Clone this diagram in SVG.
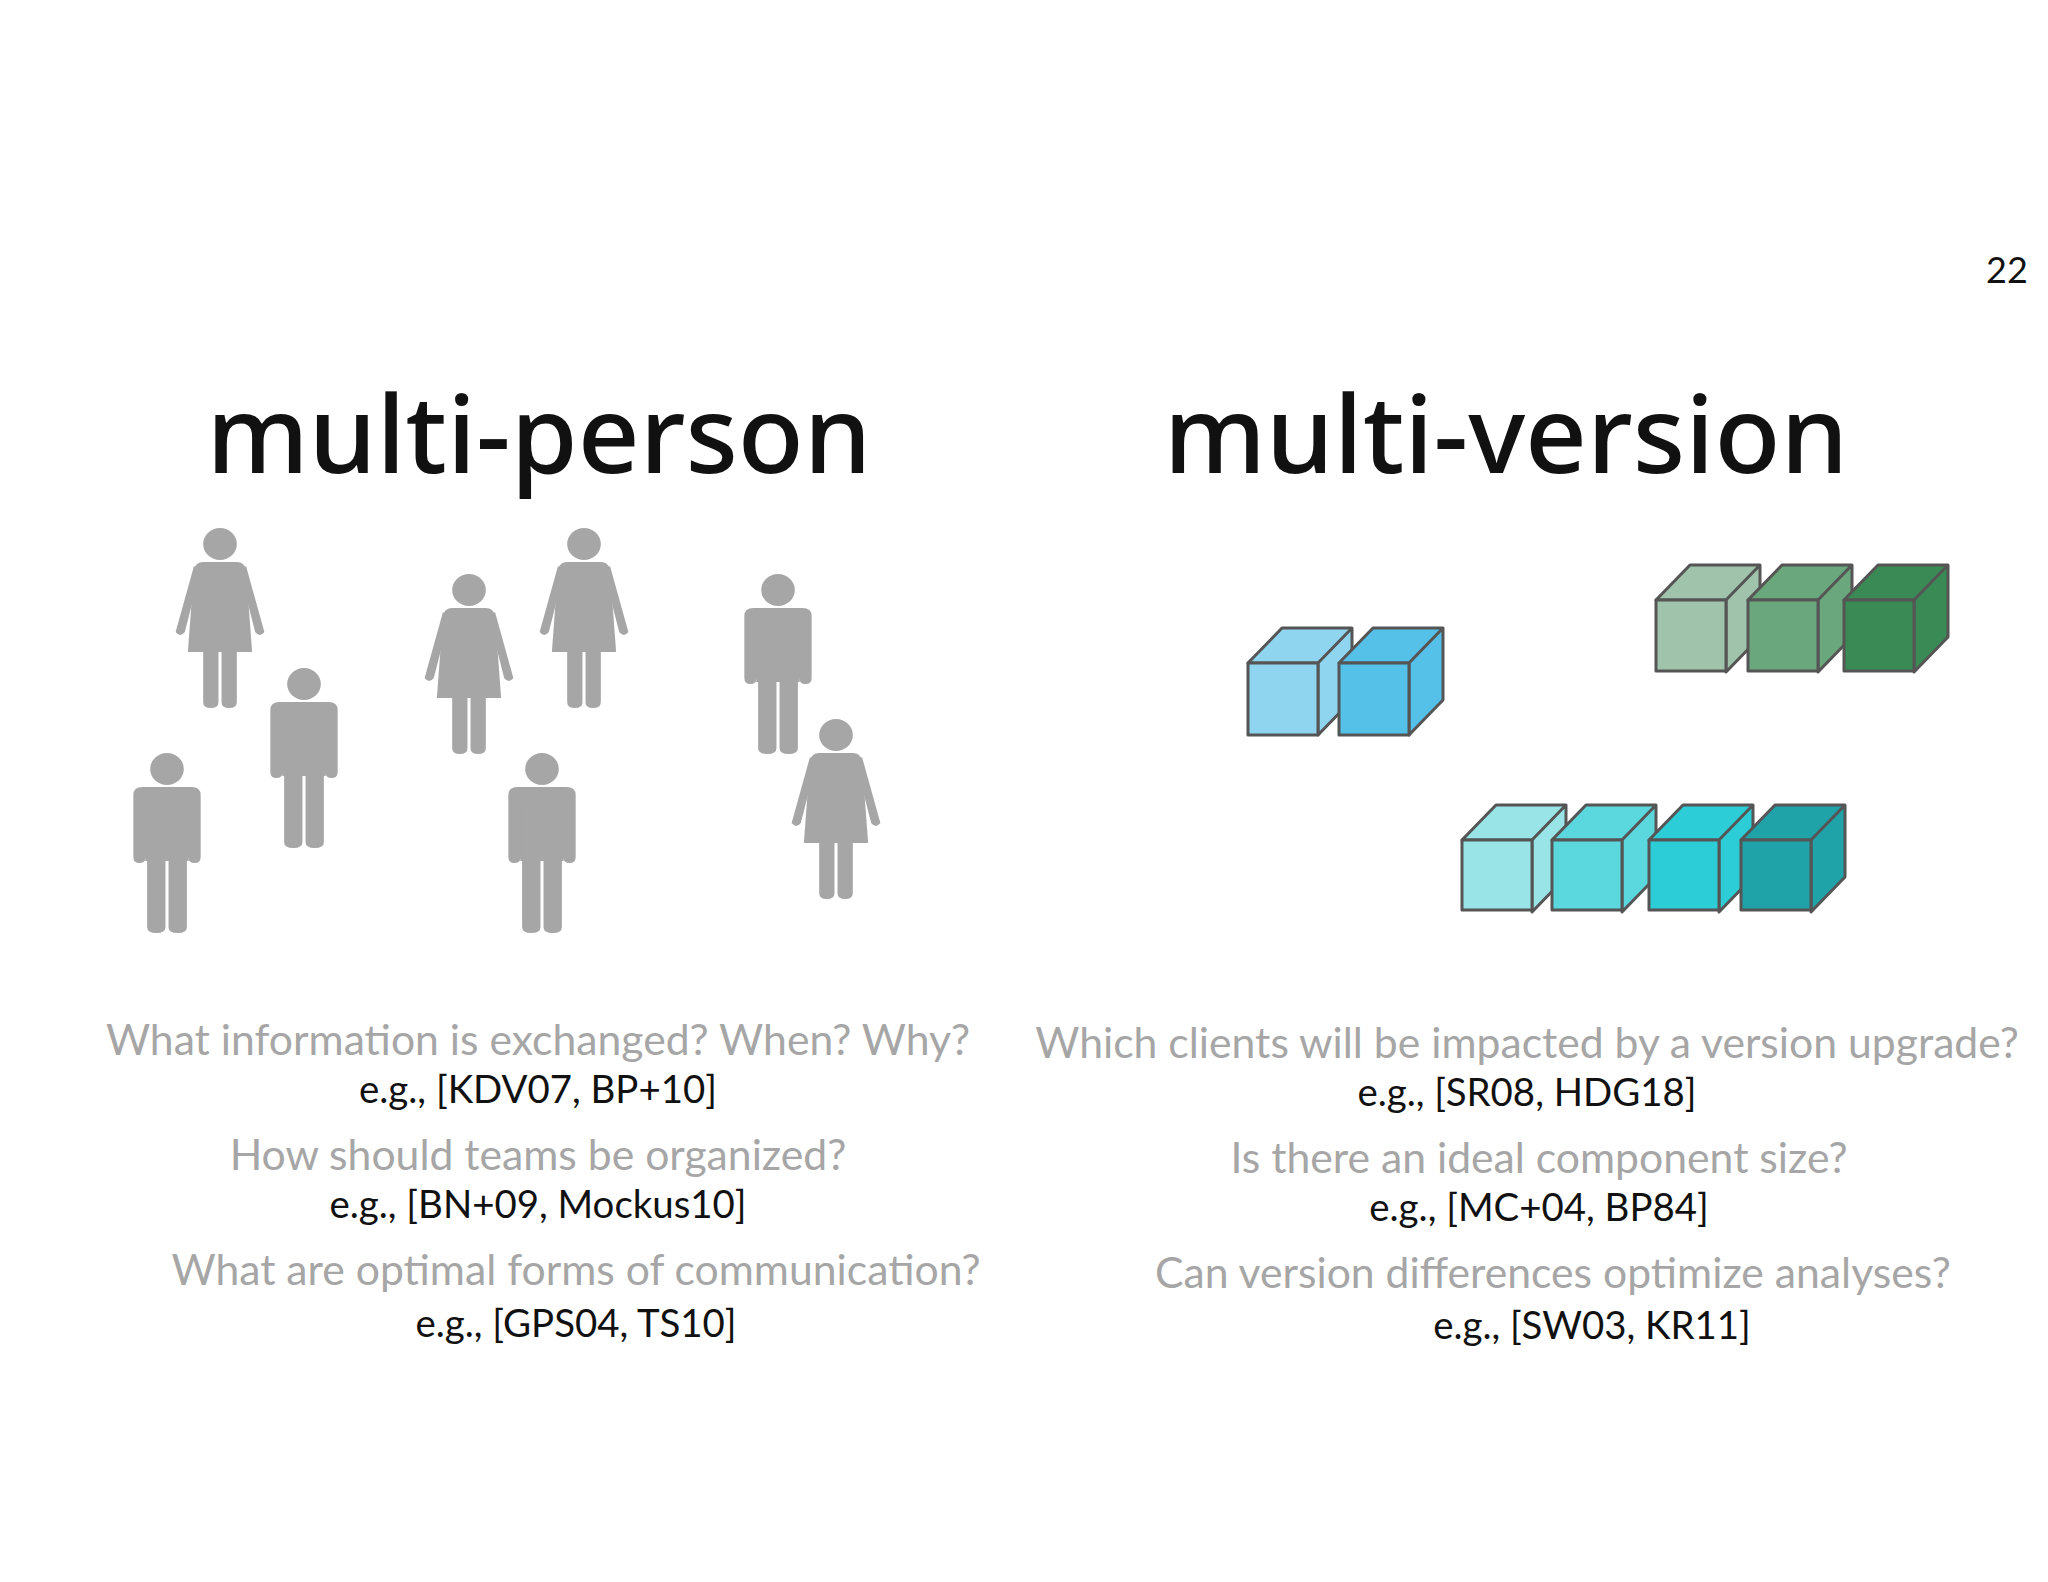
<svg xmlns="http://www.w3.org/2000/svg" width="2048" height="1582" viewBox="0 0 2048 1582">
<defs>
<style>
.t{font-family:"Noto Sans","Open Sans",sans-serif;font-size:108px;font-weight:500;fill:#111;text-anchor:middle}
.q{font-family:Lato,"Open Sans",sans-serif;font-size:42.7px;fill:#a6a6a6;text-anchor:middle}
.e{font-family:Lato,"Open Sans",sans-serif;font-size:38.4px;fill:#111;text-anchor:middle}
.p{fill:#a6a6a6}
.c{stroke:#555;stroke-width:3;stroke-linejoin:round}
</style>
<g id="woman" class="p">
<ellipse cx="0" cy="0" rx="11" ry="16"/>
<path d="M-11 18 H11 Q16 18 17 26 L21 108 H-21 L-17 26 Q-16 18 -11 18Z"/>
<path d="M-17 22 L-13 28 L-23 88 Q-26 94 -29 88 Z"/>
<path d="M17 22 L13 28 L23 88 Q26 94 29 88 Z"/>
<path d="M-11 106 H-1 V158 Q-1 164 -6 164 Q-11 164 -11 158Z"/>
<path d="M1 106 H11 V158 Q11 164 6 164 Q1 164 1 158Z"/>
</g>
<g id="man" class="p">
<ellipse cx="0" cy="0" rx="11" ry="16"/>
<path d="M-16 18 H16 Q22 18 22 26 V88 Q22 94 18 94 Q14 94 14 88 V40 V92 H-14 V40 V88 Q-14 94 -18 94 Q-22 94 -22 88 V26 Q-22 18 -16 18Z"/>
<path d="M-14 38 H14 V92 H-14Z"/>
<path d="M-13 88 H-1 V158 Q-1 164 -7 164 Q-13 164 -13 158Z"/>
<path d="M1 88 H13 V158 Q13 164 7 164 Q1 164 1 158Z"/>
</g>
</defs>
<rect width="2048" height="1582" fill="#fff"/>
<text x="2007" y="283" font-family="Lato, sans-serif" font-size="36" fill="#111" text-anchor="middle">22</text>
<g id="title-left"><text class="t" x="539" y="473">multi-person</text></g>
<g id="title-right"><text class="t" x="1506" y="473">multi-version</text></g>
<g id="people">
<use href="#woman" transform="translate(220 544) scale(1.53 1)"/>
<use href="#woman" transform="translate(469 590) scale(1.53 1)"/>
<use href="#woman" transform="translate(584 544) scale(1.53 1)"/>
<use href="#woman" transform="translate(836 735) scale(1.53 1)"/>
<use href="#man" transform="translate(167 769) scale(1.53 1)"/>
<use href="#man" transform="translate(304 684) scale(1.53 1)"/>
<use href="#man" transform="translate(542 769) scale(1.53 1)"/>
<use href="#man" transform="translate(778 590) scale(1.53 1)"/>
</g>
<g id="cubes" class="c">
<g fill="#90d5f0" transform="translate(1248 663)"><path d="M0 0 L34 -35 H104 L70 0Z M70 0 L104 -35 V37 L70 72Z"/><rect width="70" height="72"/></g>
<g fill="#55c0e8" transform="translate(1339 663)"><path d="M0 0 L34 -35 H104 L70 0Z M70 0 L104 -35 V37 L70 72Z"/><rect width="70" height="72"/></g>
<g fill="#a0c3ac" transform="translate(1656 600)"><path d="M0 0 L34 -35 H104 L70 0Z M70 0 L104 -35 V37 L70 72Z"/><rect width="70" height="71"/></g>
<g fill="#6aa77c" transform="translate(1748 600)"><path d="M0 0 L34 -35 H104 L70 0Z M70 0 L104 -35 V37 L70 72Z"/><rect width="70" height="71"/></g>
<g fill="#3a8a55" transform="translate(1844 600)"><path d="M0 0 L34 -35 H104 L70 0Z M70 0 L104 -35 V37 L70 72Z"/><rect width="70" height="71"/></g>
<g fill="#98e4e6" transform="translate(1462 840)"><path d="M0 0 L34 -35 H104 L70 0Z M70 0 L104 -35 V37 L70 72Z"/><rect width="70" height="70"/></g>
<g fill="#5bd8de" transform="translate(1552 840)"><path d="M0 0 L34 -35 H104 L70 0Z M70 0 L104 -35 V37 L70 72Z"/><rect width="70" height="70"/></g>
<g fill="#2ccdd6" transform="translate(1649 840)"><path d="M0 0 L34 -35 H104 L70 0Z M70 0 L104 -35 V37 L70 72Z"/><rect width="70" height="70"/></g>
<g fill="#1fa3a8" transform="translate(1741 840)"><path d="M0 0 L34 -35 H104 L70 0Z M70 0 L104 -35 V37 L70 72Z"/><rect width="70" height="70"/></g>
</g>
<g id="left-text">
<text class="q" x="538" y="1055">What information is exchanged? When? Why?</text>
<text class="e" x="538" y="1103">e.g., [KDV07, BP+10]</text>
<text class="q" x="538" y="1170">How should teams be organized?</text>
<text class="e" x="538" y="1218">e.g., [BN+09, Mockus10]</text>
<text class="q" x="576" y="1285">What are optimal forms of communication?</text>
<text class="e" x="576" y="1337">e.g., [GPS04, TS10]</text>
</g>
<g id="right-text">
<text class="q" x="1527" y="1058">Which clients will be impacted by a version upgrade?</text>
<text class="e" x="1527" y="1106">e.g., [SR08, HDG18]</text>
<text class="q" x="1539" y="1173">Is there an ideal component size?</text>
<text class="e" x="1539" y="1221">e.g., [MC+04, BP84]</text>
<text class="q" x="1553" y="1288">Can version differences optimize analyses?</text>
<text class="e" x="1592" y="1339">e.g., [SW03, KR11]</text>
</g>
</svg>
